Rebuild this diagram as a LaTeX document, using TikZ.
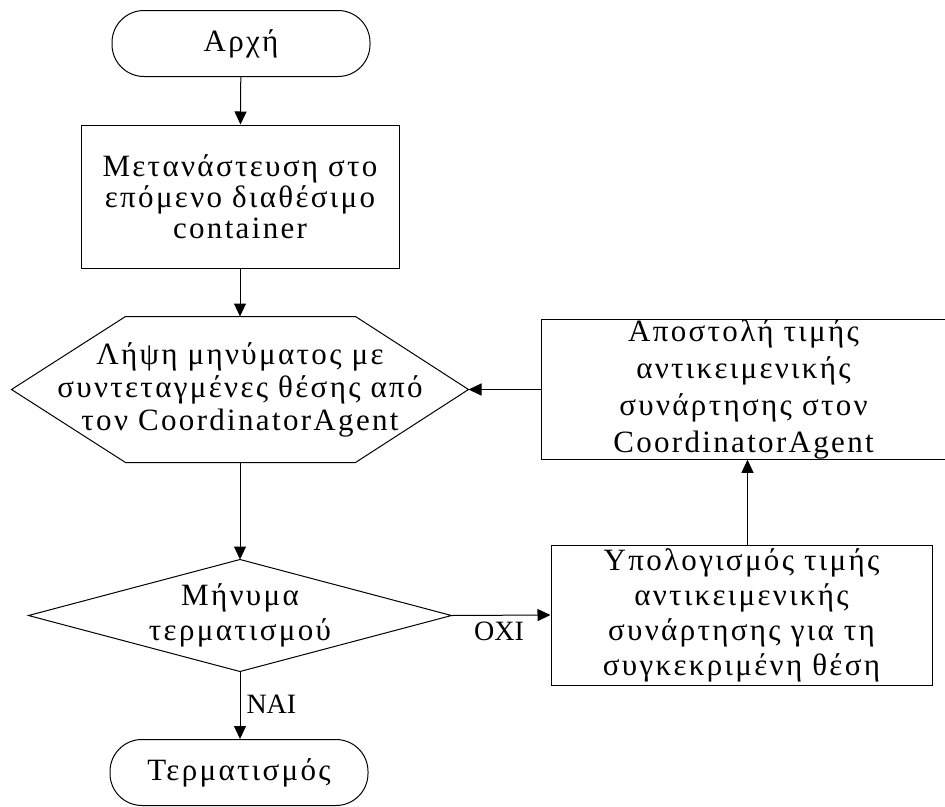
\documentclass[tikz,border=0pt]{standalone}
\usepackage{fontspec}
\setmainfont{Liberation Serif}
\newfontfamily\spacedfont[LetterSpace=7.5]{Liberation Serif}
\usetikzlibrary{arrows.meta,calc}
\begin{document}
\begin{tikzpicture}[x=1pt,y=-1pt,
  line width=1pt,
  every node/.style={inner sep=0pt,align=center},
  maintext/.style={font=\spacedfont\fontsize{31}{#1}\selectfont},
  maintext/.default=35,
  terminal/.style={draw,rounded corners=32pt,minimum width=258pt,minimum height=66pt,maintext},
  procbox/.style={draw,rectangle},
  shapeholder/.style={draw=none},
  flowarrow/.style={-{Triangle[length=13pt,width=12pt]}},
  branchlabel/.style={font=\fontsize{28}{32}\selectfont}
]
\useasboundingbox (0,0) rectangle (945,806);

\node[terminal] (start) at (241,43.5) {Αρχή};
\node[procbox,maintext=31,minimum width=318pt,minimum height=143pt] (box1) at (240,196.5)
  {Μετανάστευση στο\\επόμενο διαθέσιμο\\container};
\node[shapeholder,maintext=33,minimum width=456pt,minimum height=145pt] (hex) at (240,389.5)
  {Λήψη μηνύματος με\\συντεταγμένες θέσης από\\τον CoordinatorAgent};
\draw (hex.west) -- ([xshift=114pt]hex.north west) -- ([xshift=-113pt]hex.north east)
  -- (hex.east) -- ([xshift=-113pt]hex.south east) -- ([xshift=114pt]hex.south west) -- cycle;

\node[shapeholder,maintext=35,minimum width=422pt,minimum height=111pt] (dia) at (240,615.5)
  {Μήνυμα\\τερματισμού};
\draw (dia.north) -- (dia.east) -- (dia.south) -- (dia.west) -- cycle;

\node[procbox,maintext=37,minimum width=405pt,minimum height=137pt] (upper) at (743.5,389.5)
  {Αποστολή τιμής\\αντικειμενικής\\συνάρτησης στον\\CoordinatorAgent};
\node[procbox,maintext=35,minimum width=381pt,minimum height=140pt] (lower) at (741.5,615)
  {Υπολογισμός τιμής\\αντικειμενικής\\συνάρτησης για τη\\συγκεκριμένη θέση};

\node[terminal] (finish) at (239,772.5) {Τερματισμός};

\draw[flowarrow] (start) -- (box1);
\draw[flowarrow] (box1) -- (hex);
\draw[flowarrow] (hex) -- (dia);
\draw[flowarrow] (dia.east) -- (lower.west) node[branchlabel,pos=0.48,below=6pt] (oxi) {ΟΧΙ};
\draw[flowarrow] ([xshift=6pt]lower.north) -- ([xshift=6pt]lower.north |- upper.south);
\draw[flowarrow] (upper.west) -- (upper.west -| hex.east);
\draw[flowarrow] (dia.south) -- (dia.south |- finish.north) node[branchlabel,pos=0.48,right=6pt] (nai) {ΝΑΙ};
\end{tikzpicture}
\end{document}
